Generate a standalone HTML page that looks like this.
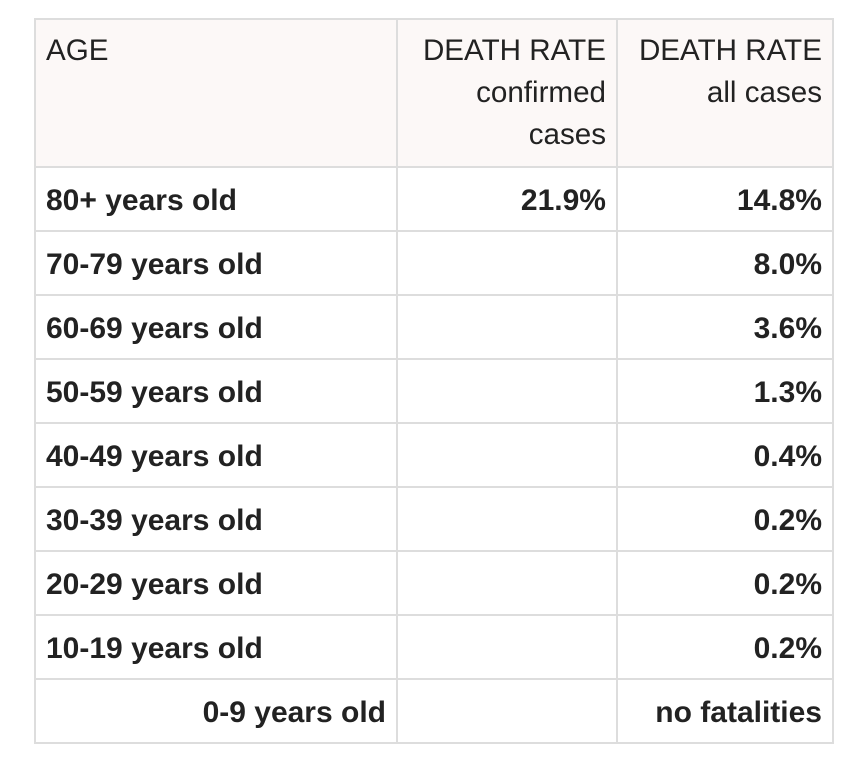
<!DOCTYPE html>
<html><head><meta charset="utf-8"><style>
body{margin:0;width:868px;height:770px;background:#fff;position:relative;font-family:"Liberation Sans",Arial,sans-serif;color:#222;overflow:hidden}
.h{position:absolute;background:#ddd;height:2px;left:34px;width:800px}
.v{position:absolute;background:#ddd;width:2px;top:18px;height:726px}
.t{position:absolute;font-size:29.6px;line-height:42px;white-space:nowrap}
.b{font-weight:bold;font-size:30px}
.r{text-align:right}
</style></head><body>
<div style="position:absolute;left:34px;top:18px;width:800px;height:150px;background:#fcf8f7"></div>
<div class="h" style="top:18px"></div>
<div class="h" style="top:166px"></div>
<div class="h" style="top:230px"></div>
<div class="h" style="top:294px"></div>
<div class="h" style="top:358px"></div>
<div class="h" style="top:422px"></div>
<div class="h" style="top:486px"></div>
<div class="h" style="top:550px"></div>
<div class="h" style="top:614px"></div>
<div class="h" style="top:678px"></div>
<div class="h" style="top:742px"></div>
<div class="v" style="left:34px"></div>
<div class="v" style="left:396px"></div>
<div class="v" style="left:616px"></div>
<div class="v" style="left:832px"></div>

<div class="t" style="left:46px;top:30px">AGE</div>
<div class="t r" style="left:400px;width:206px;top:30px">DEATH RATE<br>confirmed<br>cases</div>
<div class="t r" style="left:620px;width:202px;top:30px">DEATH RATE<br>all cases</div>

<div class="t b" style="left:46px;top:180px">80+ years old</div>
<div class="t b r" style="left:400px;width:206px;top:180px">21.9%</div>
<div class="t b r" style="left:620px;width:202px;top:180px">14.8%</div>

<div class="t b" style="left:46px;top:244px">70-79 years old</div>
<div class="t b r" style="left:620px;width:202px;top:244px">8.0%</div>
<div class="t b" style="left:46px;top:308px">60-69 years old</div>
<div class="t b r" style="left:620px;width:202px;top:308px">3.6%</div>
<div class="t b" style="left:46px;top:372px">50-59 years old</div>
<div class="t b r" style="left:620px;width:202px;top:372px">1.3%</div>
<div class="t b" style="left:46px;top:436px">40-49 years old</div>
<div class="t b r" style="left:620px;width:202px;top:436px">0.4%</div>
<div class="t b" style="left:46px;top:500px">30-39 years old</div>
<div class="t b r" style="left:620px;width:202px;top:500px">0.2%</div>
<div class="t b" style="left:46px;top:564px">20-29 years old</div>
<div class="t b r" style="left:620px;width:202px;top:564px">0.2%</div>
<div class="t b" style="left:46px;top:628px">10-19 years old</div>
<div class="t b r" style="left:620px;width:202px;top:628px">0.2%</div>
<div class="t b r" style="left:40px;width:346px;top:692px">0-9 years old</div>
<div class="t b r" style="left:620px;width:202px;top:692px">no fatalities</div>
</body></html>
